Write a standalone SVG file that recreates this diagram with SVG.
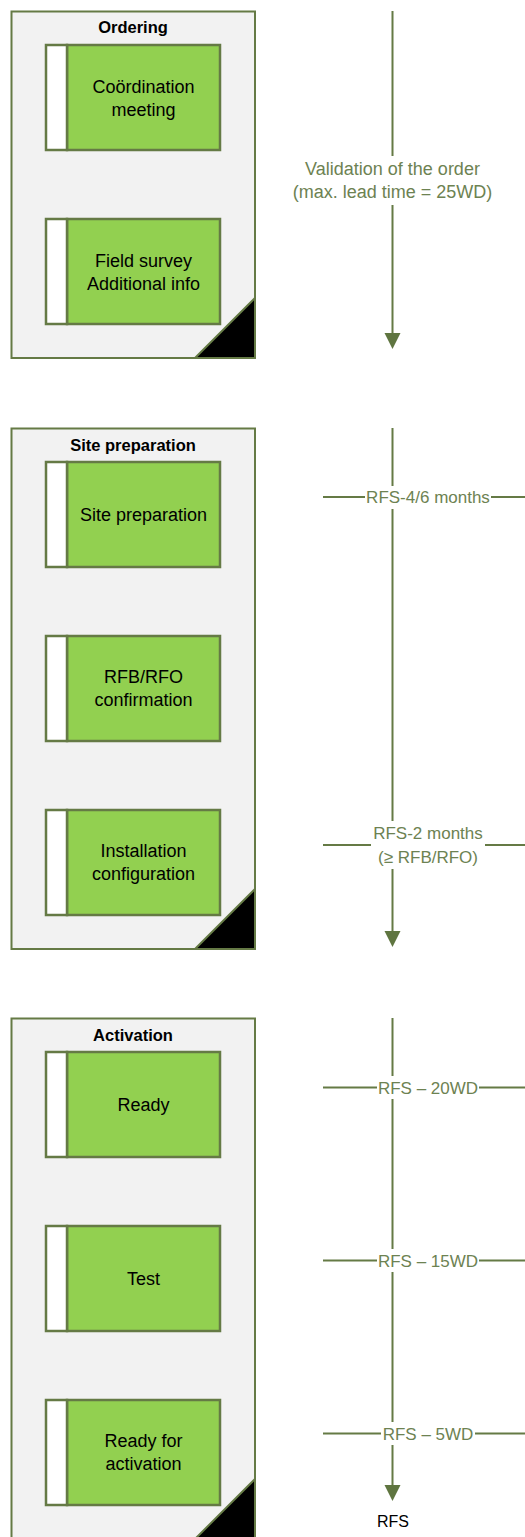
<svg xmlns="http://www.w3.org/2000/svg" width="525" height="1537" viewBox="0 0 525 1537">
<style>
.cont{fill:#F2F2F2;stroke:#657A45;stroke-width:2}
.corner{fill:#000;stroke:#657A45;stroke-width:2;stroke-linejoin:miter}
.strip{fill:#FFFFFF;stroke:#657A45;stroke-width:2.5}
.task{fill:#92D050;stroke:#657A45;stroke-width:2.5}
.title{font-family:"Liberation Sans",Arial,sans-serif;font-weight:bold;font-size:16.5px;fill:#000;text-anchor:middle}
.body{font-family:"Liberation Sans",Arial,sans-serif;font-size:18px;fill:#000;text-anchor:middle}
.lbl{font-family:"Liberation Sans",Arial,sans-serif;font-size:17px;fill:#6D8252;text-anchor:middle}
.rfs{font-family:"Liberation Sans",Arial,sans-serif;font-size:16px;fill:#000;text-anchor:middle}
.ln{stroke:#657A45;stroke-width:2;fill:none}
.ah{fill:#5F7540}
</style>

<!-- Ordering phase -->
<g id="phase-ordering">
  <rect class="cont" x="11.5" y="11.5" width="243.5" height="346.5"/>
  <polygon class="corner" points="195,358 255,298 255,358"/>
  <text class="title" x="133" y="33">Ordering</text>
</g>
<g id="task-coordination">
  <rect class="task" x="67" y="45" width="153" height="105"/>
  <rect class="strip" x="46" y="45" width="21" height="105"/>
  <text class="body" x="143.5" y="93">Coördination</text>
  <text class="body" x="143.5" y="116">meeting</text>
</g>
<g id="task-field-survey">
  <rect class="task" x="67" y="219" width="153" height="105"/>
  <rect class="strip" x="46" y="219" width="21" height="105"/>
  <text class="body" x="143.5" y="267">Field survey</text>
  <text class="body" x="143.5" y="290">Additional info</text>
</g>

<!-- Site preparation phase -->
<g id="phase-site-preparation">
  <rect class="cont" x="11.5" y="428.5" width="243.5" height="520.5"/>
  <polygon class="corner" points="195,949 255,889 255,949"/>
  <text class="title" x="133" y="451">Site preparation</text>
</g>
<g id="task-site-preparation">
  <rect class="task" x="67" y="462" width="153" height="105"/>
  <rect class="strip" x="46" y="462" width="21" height="105"/>
  <text class="body" x="143.5" y="521">Site preparation</text>
</g>
<g id="task-rfb-rfo">
  <rect class="task" x="67" y="636" width="153" height="105"/>
  <rect class="strip" x="46" y="636" width="21" height="105"/>
  <text class="body" x="143.5" y="683">RFB/RFO</text>
  <text class="body" x="143.5" y="706">confirmation</text>
</g>
<g id="task-installation">
  <rect class="task" x="67" y="810" width="153" height="105"/>
  <rect class="strip" x="46" y="810" width="21" height="105"/>
  <text class="body" x="143.5" y="857">Installation</text>
  <text class="body" x="143.5" y="880">configuration</text>
</g>

<!-- Activation phase -->
<g id="phase-activation">
  <rect class="cont" x="11.5" y="1018.5" width="243.5" height="520.5"/>
  <polygon class="corner" points="195,1539 255,1479 255,1539"/>
  <text class="title" x="133" y="1041">Activation</text>
</g>
<g id="task-ready">
  <rect class="task" x="67" y="1052" width="153" height="105"/>
  <rect class="strip" x="46" y="1052" width="21" height="105"/>
  <text class="body" x="143.5" y="1111">Ready</text>
</g>
<g id="task-test">
  <rect class="task" x="67" y="1226" width="153" height="105"/>
  <rect class="strip" x="46" y="1226" width="21" height="105"/>
  <text class="body" x="143.5" y="1285">Test</text>
</g>
<g id="task-ready-for-activation">
  <rect class="task" x="67" y="1400" width="153" height="105"/>
  <rect class="strip" x="46" y="1400" width="21" height="105"/>
  <text class="body" x="143.5" y="1447">Ready for</text>
  <text class="body" x="143.5" y="1470">activation</text>
</g>

<!-- Timeline connectors -->
<g id="connectors">
  <!-- timeline 1 -->
  <path class="ln" d="M392.5,11 V156 M392.5,205 V335"/>
  <path class="ah" d="M384.5,333 L400.5,333 L392.5,349 Z"/>
  <text class="lbl" x="392.5" y="175" style="font-size:18px">Validation of the order</text>
  <text class="lbl" x="392.5" y="198" style="font-size:18px">(max. lead time = 25WD)</text>

  <!-- timeline 2 -->
  <path class="ln" d="M392.5,428 V486 M392.5,509 V821 M392.5,869 V933"/>
  <path class="ah" d="M384.5,931 L400.5,931 L392.5,947 Z"/>
  <path class="ln" d="M323,497 H365 M491,497 H525"/>
  <text class="lbl" x="428" y="503">RFS-4/6 months</text>
  <path class="ln" d="M323,845 H371 M485,845 H525"/>
  <text class="lbl" x="428" y="839">RFS-2 months</text>
  <text class="lbl" x="428" y="863">(≥ RFB/RFO)</text>

  <!-- timeline 3 -->
  <path class="ln" d="M392.5,1018 V1076 M392.5,1099 V1249 M392.5,1272 V1422 M392.5,1445 V1487"/>
  <path class="ah" d="M384.5,1485 L400.5,1485 L392.5,1501 Z"/>
  <path class="ln" d="M323,1087.5 H377 M479,1087.5 H525"/>
  <text class="lbl" x="428" y="1093.5">RFS – 20WD</text>
  <path class="ln" d="M323,1260.5 H377 M479,1260.5 H525"/>
  <text class="lbl" x="428" y="1266.5">RFS – 15WD</text>
  <path class="ln" d="M323,1433.5 H381 M475,1433.5 H525"/>
  <text class="lbl" x="428" y="1439.5">RFS – 5WD</text>
  <text class="rfs" x="393" y="1527">RFS</text>
</g>
</svg>
